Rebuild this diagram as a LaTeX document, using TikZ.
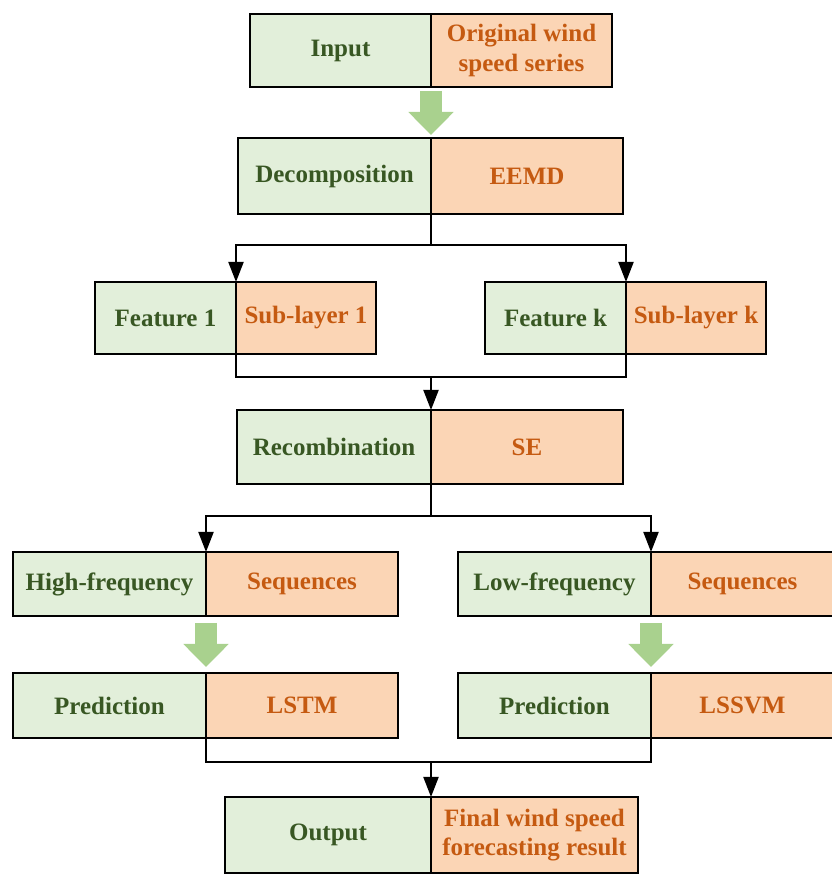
\documentclass[tikz,border=0pt]{standalone}
\usepackage{fontspec}
\setmainfont{Liberation Serif}
\usetikzlibrary{arrows.meta,calc}
\definecolor{gfill}{HTML}{E2EFDA}
\definecolor{ofill}{HTML}{FBD5B5}
\definecolor{gtext}{HTML}{385723}
\definecolor{otext}{HTML}{C55A11}
\definecolor{garrow}{HTML}{A9D18E}
% name, x-left, x-divider, x-right, y-top, y-bottom (pixel coords, y down), left text, right text
\newcommand\mypair[8]{%
  \node[gbox, minimum width={#3-#2}, minimum height={#6-#5}, anchor=north west] (#1L) at (#2,875-#5) {#7};
  \node[obox, minimum width={#4-#3}, minimum height={#6-#5}, anchor=north west] (#1R) at (#3,875-#5) {#8};
}
\begin{document}
\begin{tikzpicture}[x=1pt,y=1pt,
 half/.style={draw=black, line width=2.2pt, inner sep=0pt, outer sep=0pt, align=center, font=\fontsize{25}{29}\selectfont\bfseries},
 gbox/.style={half, fill=gfill, text=gtext},
 obox/.style={half, fill=ofill, text=otext},
 conn/.style={line width=2pt, draw=black},
 carrow/.style={conn, -{Triangle[length=20pt,width=15pt]}},
 barrow/.style={draw=garrow, line width=22pt, -{Triangle[length=23pt,width=44pt]}},
]
\useasboundingbox (0,0) rectangle (832,875);

\mypair{in}{250}{431}{612}{14}{87}{Input}{Original wind\\speed series}
\mypair{dec}{238}{431}{623}{138}{214}{Decomposition}{EEMD}
\mypair{fa}{95}{236}{376}{282}{354}{Feature 1}{Sub-layer 1}
\mypair{fk}{485}{626}{766}{282}{354}{Feature k}{Sub-layer k}
\mypair{rec}{237}{431}{623}{410}{484}{Recombination}{SE}
\mypair{hf}{13}{206}{398}{552}{616}{High-frequency}{Sequences}
\mypair{lf}{458}{651}{834}{552}{616}{Low-frequency}{Sequences}
\mypair{lstm}{13}{206}{398}{673}{738}{Prediction}{LSTM}
\mypair{lssvm}{458}{651}{834}{673}{738}{Prediction}{LSSVM}
\mypair{out}{225}{431}{638}{797}{873}{Output}{Final wind speed\\forecasting result}

% block arrows
\draw[barrow] ($(inL.south east)+(0,-4)$) -- ($(decL.north east)+(0,3)$);
\draw[barrow] ($(hfL.south east)+(0,-7)$) -- ($(lstmL.north east)+(0,6)$);
\draw[barrow] ($(lfL.south east)+(0,-7)$) -- ($(lssvmL.north east)+(0,6)$);

% connectors
\coordinate (j1) at ($(decL.south east)+(0,-31)$);
\draw[conn] (decL.south east) -- (j1);
\draw[carrow] (j1) -| (faL.north east);
\draw[carrow] (j1) -| (fkL.north east);

\coordinate (j2) at ($(recL.north east)+(0,33)$);
\draw[conn] (faL.south east) |- (j2);
\draw[conn] (fkL.south east) |- (j2);
\draw[carrow] (j2) -- (recL.north east);

\coordinate (j3) at ($(recL.south east)+(0,-32)$);
\draw[conn] (recL.south east) -- (j3);
\draw[carrow] (j3) -| (hfL.north east);
\draw[carrow] (j3) -| (lfL.north east);

\coordinate (j4) at ($(outL.north east)+(0,35)$);
\draw[conn] (lstmL.south east) |- (j4);
\draw[conn] (lssvmL.south east) |- (j4);
\draw[carrow] (j4) -- (outL.north east);
\end{tikzpicture}
\end{document}
